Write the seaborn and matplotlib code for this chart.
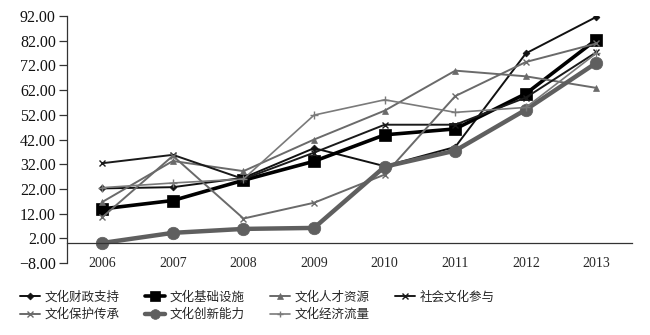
import matplotlib
matplotlib.use("Agg")
import matplotlib.pyplot as plt
import seaborn as sns
import numpy as np
import pandas as pd

years = ["2006", "2007", "2008", "2009", "2010", "2011", "2012", "2013"]

fiscal_support = [22.2, 22.7, 26.5, 38.5, 31.2, 39.0, 76.9, 91.7]
infrastructure = [13.9, 17.3, 25.5, 33.2, 43.9, 46.3, 60.6, 82.5]
talent = [16.7, 33.3, 29.2, 42.0, 53.7, 69.9, 67.6, 62.9]
participation = [32.4, 35.8, 26.0, 36.7, 48.0, 48.0, 59.0, 77.4]
heritage = [10.5, 35.4, 10.0, 16.4, 27.8, 59.6, 73.4, 80.9]
innovation = [0.1, 4.2, 5.8, 6.2, 31.0, 37.5, 54.1, 73.1]
economic_flow = [22.5, 24.4, 26.0, 51.9, 58.1, 53.0, 55.0, 77.0]

names = ["文化财政支持", "文化基础设施", "文化人才资源", "社会文化参与",
         "文化保护传承", "文化创新能力", "文化经济流量"]
series = [fiscal_support, infrastructure, talent, participation,
          heritage, innovation, economic_flow]

yticks = [-8, 2, 12, 22, 32, 42, 52, 62, 72, 82, 92]

styles = [
    dict(color="#111111", lw=1.4, marker="D", ms=3.5, mew=0.5, legend_ms=3.5),
    dict(color="#000000", lw=2.6, marker="s", ms=9, mew=0.5, legend_ms=7),
    dict(color="#6a6a6a", lw=1.4, marker="^", ms=5, mew=0.5, legend_ms=4.5),
    dict(color="#1a1a1a", lw=1.4, marker="x", ms=5, mew=1.0, legend_ms=4.5),
    dict(color="#6a6a6a", lw=1.4, marker="x", ms=5, mew=1.0, legend_ms=4.5),
    dict(color="#5f5f5f", lw=3.2, marker="o", ms=9, mew=0.5, legend_ms=7),
    dict(color="#7a7a7a", lw=1.2, marker="+", ms=6, mew=1.0, legend_ms=5),
]

sns.set_style("white")
plt.rcParams["font.family"] = ["Liberation Serif", "Noto Sans CJK SC"]

fig = plt.figure(figsize=(6.5, 3.35), dpi=100)
ax = fig.add_axes([0.103, 0.215, 0.869, 0.737])

xpos = np.arange(len(years))
for name, vals, st in zip(names, series, styles):
    df = pd.DataFrame({"x": xpos, "y": vals})
    sns.lineplot(data=df, x="x", y="y", ax=ax, color=st["color"],
                 linewidth=st["lw"], marker=st["marker"], markersize=st["ms"],
                 markeredgewidth=st["mew"], markeredgecolor=st["color"],
                 label=name, legend=False)

lines = ax.get_lines()

ax.set_xlim(-0.5, len(years) - 0.5)
ax.set_ylim(-8, 92)
ax.set_yticks(yticks)
ax.set_yticklabels([f"{v:.2f}".replace("-", "\u2212") for v in yticks],
                   fontsize=11.5, color="#111111")
ax.set_xticks(xpos)
ax.set_xticklabels(years, fontsize=11.5, color="#111111")
ax.set_xticks(np.arange(-0.5, len(years)), minor=True)
ax.tick_params(axis="x", which="major", length=0, pad=10)
ax.tick_params(axis="x", which="minor", length=4, width=0.9, direction="out",
               color="#333333")
ax.tick_params(axis="y", length=6, width=0.9, direction="out", pad=2,
               color="#333333", left=True)
ax.set_xlabel("")
ax.set_ylabel("")

for side in ["top", "right"]:
    ax.spines[side].set_visible(False)
ax.spines["bottom"].set_position(("data", 0))
for side in ["left", "bottom"]:
    ax.spines[side].set_color("#333333")
    ax.spines[side].set_linewidth(0.9)

order = [0, 4, 1, 5, 2, 6, 3]
leg = fig.legend([lines[i] for i in order], [names[i] for i in order],
                 loc="upper left", bbox_to_anchor=(0.03, 0.132), ncol=4,
                 frameon=False, prop={"family": "Noto Sans CJK SC", "size": 9},
                 handlelength=1.6, handletextpad=0.4, columnspacing=2.0,
                 labelspacing=0.35, borderaxespad=0, borderpad=0)
for h, i in zip(leg.legend_handles, order):
    h.set_markersize(styles[i]["legend_ms"])

fig.savefig("out.png", dpi=100)
